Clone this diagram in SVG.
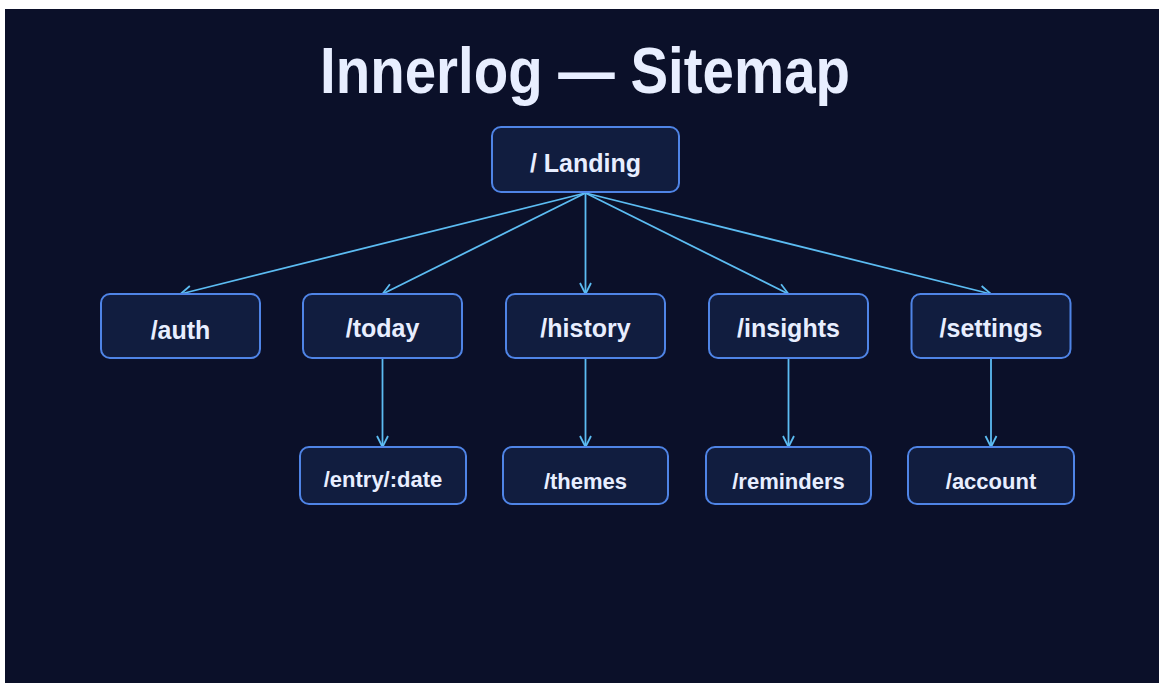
<svg xmlns="http://www.w3.org/2000/svg" width="1159" height="683" viewBox="0 0 1159 683">
<defs>
<style>
.node rect{fill:#111d3f;stroke:#4f84e6;stroke-width:2}
.node text{fill:#e8eeff;font-family:"Liberation Sans",Arial,sans-serif;font-weight:bold;text-anchor:middle}
.l1 text{font-size:25px}
.l2 text{font-size:22px}
.edge{stroke:#5cbcf2;stroke-width:1.8;fill:none;marker-end:url(#arr)}
.title{fill:#e8eeff;font-family:"Liberation Sans",Arial,sans-serif;font-weight:bold;font-size:65px;text-anchor:middle}
</style>
<marker id="arr" viewBox="0 0 14 14" refX="13" refY="7" markerWidth="14" markerHeight="14" markerUnits="userSpaceOnUse" orient="auto">
<path d="M2,1.5 L13,7 L2,12.5" fill="none" stroke="#5cbcf2" stroke-width="1.8"/>
</marker>
</defs>
<rect x="0" y="0" width="1159" height="683" fill="#ffffff"/>
<rect x="5" y="9" width="1154" height="674" fill="#0b1029"/>
<text class="title" x="585" y="93" textLength="530" lengthAdjust="spacingAndGlyphs">Innerlog — Sitemap</text>
<g id="connectors">
<line class="edge" x1="585.5" y1="193" x2="180.5" y2="294"/>
<line class="edge" x1="585.5" y1="193" x2="382.5" y2="294"/>
<line class="edge" x1="585.5" y1="193" x2="585.5" y2="294"/>
<line class="edge" x1="585.5" y1="193" x2="788.5" y2="294"/>
<line class="edge" x1="585.5" y1="193" x2="991" y2="294"/>
<line class="edge" x1="382.5" y1="358" x2="382.5" y2="447"/>
<line class="edge" x1="585.5" y1="358" x2="585.5" y2="447"/>
<line class="edge" x1="788.5" y1="358" x2="788.5" y2="447"/>
<line class="edge" x1="991" y1="358" x2="991" y2="447"/>
</g>
<g id="landing" class="node l1"><rect x="492" y="127" width="187" height="65" rx="9"/><text x="585.5" y="172">/ Landing</text></g>
<g id="auth" class="node l1"><rect x="101" y="294" width="159" height="64" rx="9"/><text x="180.5" y="339">/auth</text></g>
<g id="today" class="node l1"><rect x="303" y="294" width="159" height="64" rx="9"/><text x="382.5" y="337">/today</text></g>
<g id="history" class="node l1"><rect x="506" y="294" width="159" height="64" rx="9"/><text x="585.5" y="337">/history</text></g>
<g id="insights" class="node l1"><rect x="709" y="294" width="159" height="64" rx="9"/><text x="788.5" y="337">/insights</text></g>
<g id="settings" class="node l1"><rect x="911.5" y="294" width="159" height="64" rx="9"/><text x="991" y="337">/settings</text></g>
<g id="entry" class="node l2"><rect x="300" y="447" width="166" height="57" rx="9"/><text x="383" y="487">/entry/:date</text></g>
<g id="themes" class="node l2"><rect x="503" y="447" width="165" height="57" rx="9"/><text x="585.5" y="489">/themes</text></g>
<g id="reminders" class="node l2"><rect x="706" y="447" width="165" height="57" rx="9"/><text x="788.5" y="489">/reminders</text></g>
<g id="account" class="node l2"><rect x="908" y="447" width="166" height="57" rx="9"/><text x="991" y="489">/account</text></g>
</svg>
